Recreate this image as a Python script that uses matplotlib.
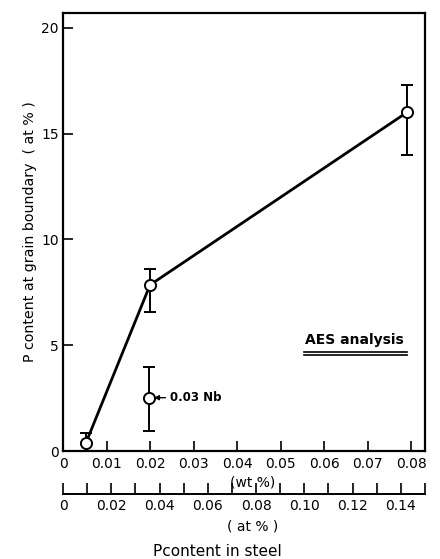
import numpy as np
import matplotlib
matplotlib.use("Agg")
import matplotlib.pyplot as plt
from matplotlib.ticker import FixedLocator, FuncFormatter

# P content in steel (wt %) and at grain boundary (at %), AES analysis
p_steel_wt = [0.0053, 0.020, 0.079]
p_gb = [0.40, 7.85, 16.0]
err_low = [0.40, 1.30, 2.0]
err_high = [0.45, 0.75, 1.3]

# 0.03 Nb steel
nb_x = [0.0197]
nb_y = [2.52]
nb_err_low = [1.57]
nb_err_high = [1.43]

wt_ticks = [0, 0.01, 0.02, 0.03, 0.04, 0.05, 0.06, 0.07, 0.08]
wt_labels = ["0", "0.01", "0.02", "0.03", "0.04", "0.05", "0.06", "0.07", "0.08"]
at_major = [0, 0.02, 0.04, 0.06, 0.08, 0.10, 0.12, 0.14]
at_minor = [0.01, 0.03, 0.05, 0.07, 0.09, 0.11, 0.13, 0.15]
y_ticks = [0, 5, 10, 15, 20]

# wt% -> at% for P in Fe
ratio = 55.85 / 30.97

plt.rcParams["font.family"] = "DejaVu Sans"
fig = plt.figure(figsize=(4.4, 5.59), dpi=100)
ax = fig.add_axes([0.1432, 0.1932, 0.8227, 0.7835])

ax.errorbar(p_steel_wt, p_gb, yerr=[err_low, err_high], fmt="-o", color="black",
            lw=2.0, elinewidth=1.4, capsize=4, capthick=1.4,
            ms=8, mfc="white", mec="black", mew=1.4, zorder=3)
ax.errorbar(nb_x, nb_y, yerr=[nb_err_low, nb_err_high], fmt="o", color="black",
            elinewidth=1.4, capsize=4, capthick=1.4,
            ms=8, mfc="white", mec="black", mew=1.4, zorder=3)
ax.annotate("0.03 Nb", xy=(nb_x[0] + 0.0012, nb_y[0]), xytext=(nb_x[0] + 0.0048, nb_y[0]),
            fontsize=8.5, fontweight="bold", va="center", ha="left",
            arrowprops=dict(arrowstyle="-|>", color="black", lw=1.0,
                            mutation_scale=7, shrinkA=1, shrinkB=0))

ax.text(0.668, 0.254, "AES analysis", transform=ax.transAxes, fontsize=10,
        fontweight="bold", ha="left", va="center")
for yy in (0.225, 0.219):
    ax.plot([0.665, 0.95], [yy, yy], transform=ax.transAxes, color="black",
            lw=1.2, clip_on=False)

ax.set_xlim(0, 0.15 / ratio)
ax.set_ylim(0, 20.7)
ax.set_xticks(wt_ticks)
ax.set_xticklabels(wt_labels)
ax.set_yticks(y_ticks)
ax.tick_params(axis="both", direction="in", length=7, width=1.2, labelsize=10)
ax.tick_params(axis="x", pad=4)
ax.tick_params(axis="y", pad=3)
for s in ax.spines.values():
    s.set_linewidth(1.6)

ax.set_ylabel("P content at grain boundary  ( at % )", fontsize=10.2, labelpad=3)

sec = ax.secondary_xaxis(-0.098, functions=(lambda x: x * ratio, lambda x: x / ratio))
sec.xaxis.set_major_locator(FixedLocator(at_major))
sec.xaxis.set_minor_locator(FixedLocator(at_minor))
sec.xaxis.set_major_formatter(FuncFormatter(lambda v, p: "0" if v == 0 else f"{v:.2f}"))
sec.tick_params(axis="x", which="both", direction="in", length=8, width=1.2,
                labelsize=10, pad=4)
sec.spines["bottom"].set_linewidth(1.4)

fig.text(0.575, 1 - 482 / 559, "(wt %)", fontsize=10, ha="center", va="center")
fig.text(0.575, 1 - 527 / 559, "( at % )", fontsize=10, ha="center", va="center")
fig.text(0.493, 1 - 552 / 559, "Pcontent in steel", fontsize=11, ha="center", va="center")

fig.savefig("out.png", dpi=100)
